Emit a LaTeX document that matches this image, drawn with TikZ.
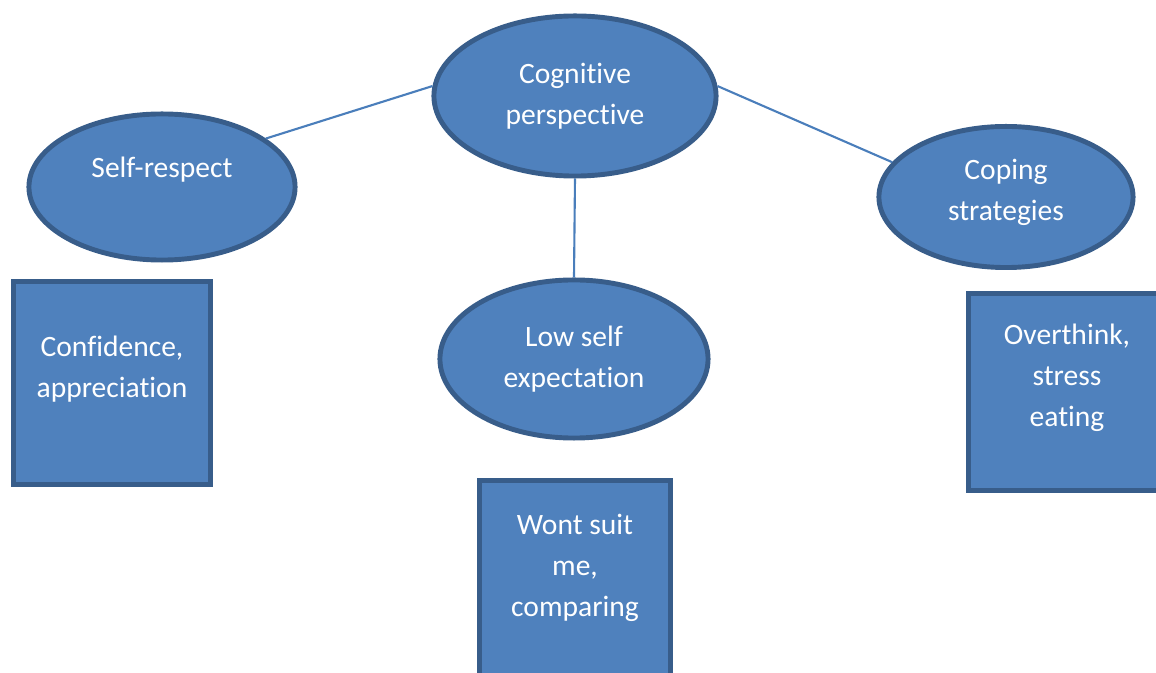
\documentclass[tikz,border=0pt]{standalone}
\usepackage{fontspec}
\setmainfont{Carlito}[Ligatures=NoCommon]
\usetikzlibrary{shapes.geometric}
\definecolor{fillblue}{HTML}{4F81BD}
\definecolor{edgeblue}{HTML}{385D8A}
\definecolor{lineblue}{HTML}{4A7EBB}
\tikzset{
  bubble/.style={ellipse,draw=edgeblue,fill=fillblue,line width=1.4pt,text=white,align=center,inner sep=0pt},
  card/.style={rectangle,draw=edgeblue,fill=fillblue,line width=1.4pt,text=white,align=center,text depth=0.33cm},
  link/.style={lineblue,line width=0.6pt}
}
\begin{document}
\begin{tikzpicture}[x=0.01cm,y=-0.01cm,font=\fontsize{8.4}{11.6}\selectfont]
\useasboundingbox (0,0) rectangle (1156,673);
\clip (0,0) rectangle (1156,673);
\node (cog) [bubble,minimum width=2.82cm,minimum height=1.60cm] at (575,96) {Cognitive\\perspective};
\node (self) [bubble,minimum width=2.66cm,minimum height=1.46cm,text depth=0.4cm] at (162,187) {Self-respect};
\node (cope) [bubble,minimum width=2.54cm,minimum height=1.41cm,text depth=0.15cm] at (1006,197) {Coping\\strategies};
\node (low) [bubble,minimum width=2.68cm,minimum height=1.58cm] at (574,359) {Low self\\expectation};
\node (conf) [card,minimum width=1.96cm,minimum height=2.02cm] at (112,383) {Confidence,\\appreciation};
\node (over) [card,minimum width=1.96cm,minimum height=1.97cm] at (1067,392) {Overthink,\\stress\\eating};
\node (wont) [card,minimum width=1.91cm,minimum height=2.02cm] at (575,582) {Wont suit\\me,\\comparing};
\draw[link] (cog.176) -- (self.25);
\draw[link] (cog.4) -- (cope.163);
\draw[link] (cog.south) -- (low.north);
\end{tikzpicture}
\end{document}
